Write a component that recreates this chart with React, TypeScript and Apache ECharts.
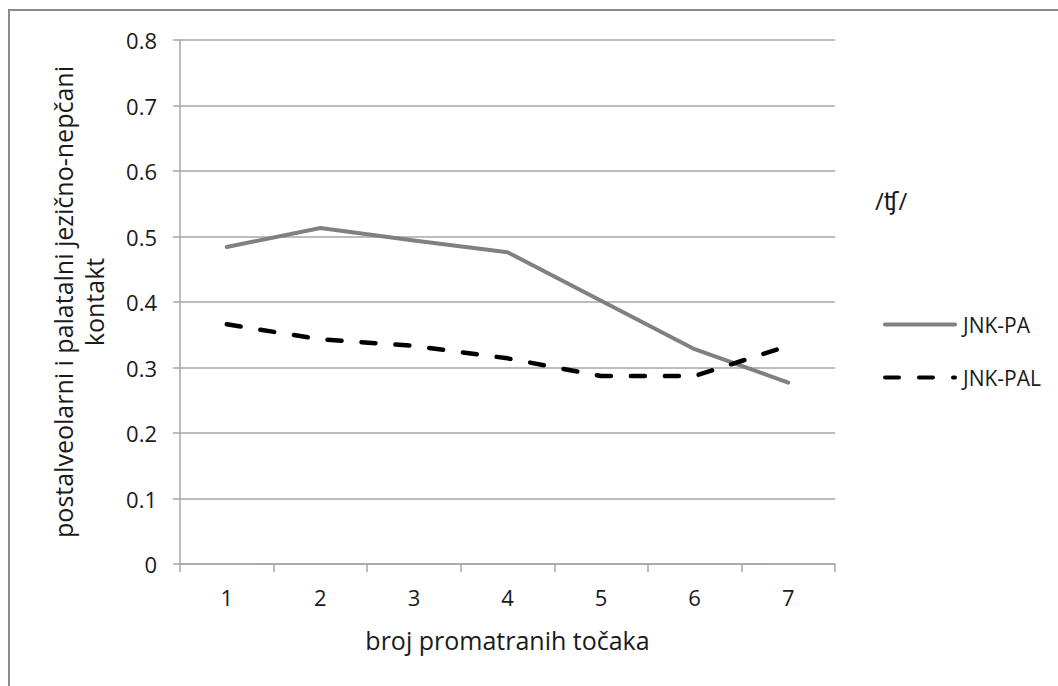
import { useEffect, useRef } from "react";
import * as echarts from "echarts";

// broj promatranih točaka (x kategorije)
const categories = ["1", "2", "3", "4", "5", "6", "7"];
const jnkPa = [0.484, 0.513, 0.494, 0.476, 0.402, 0.328, 0.277];
const jnkPal = [0.366, 0.343, 0.333, 0.314, 0.287, 0.287, 0.333];
const seriesNames = ["JNK-PA", "JNK-PAL"];
const yRange = { min: 0, max: 0.8, step: 0.1 };

const FONT = "'Open Sans', 'DejaVu Sans', sans-serif";
const TEXT = "#1a1a1a";
const GRID = "#a6a6a6";

export default function App() {
  const chartRef = useRef<HTMLDivElement>(null);

  useEffect(() => {
    if (!chartRef.current) return;
    const chart = echarts.init(chartRef.current, undefined, { renderer: "svg" });

    const option: echarts.EChartsOption = {
      animation: false,
      backgroundColor: "#ffffff",
      title: {
        text: "/ʧ/",
        left: 870,
        top: 183,
        textStyle: {
          fontFamily: FONT,
          fontSize: 24,
          fontWeight: "normal",
          color: TEXT,
        },
      },
      legend: {
        orient: "vertical",
        left: 878,
        top: 309,
        itemWidth: 70,
        itemHeight: 14,
        itemGap: 32,
        data: seriesNames,
        // samo linija u legendi, bez simbola
        itemStyle: { opacity: 0 },
        lineStyle: { width: 4 },
        textStyle: {
          fontFamily: FONT,
          fontSize: 21,
          color: TEXT,
          padding: [0, 0, 0, 3],
        },
      },
      grid: {
        left: 180,
        right: 223,
        top: 40,
        bottom: 122,
      },
      xAxis: {
        type: "category",
        data: categories,
        boundaryGap: true,
        name: "broj promatranih točaka",
        nameLocation: "middle",
        nameGap: 63,
        nameTextStyle: {
          fontFamily: FONT,
          fontSize: 25,
          color: TEXT,
        },
        axisLine: { lineStyle: { color: GRID, width: 1.5 } },
        axisTick: {
          show: true,
          length: 8,
          interval: 0,
          lineStyle: { color: GRID, width: 1.5 },
        },
        axisLabel: {
          fontFamily: FONT,
          fontSize: 22,
          color: TEXT,
          margin: 22,
          interval: 0,
        },
        splitLine: { show: false },
      },
      yAxis: {
        type: "value",
        min: yRange.min,
        max: yRange.max,
        interval: yRange.step,
        name: "postalveolarni i palatalni jezično-nepčani\nkontakt",
        nameLocation: "middle",
        nameGap: 71,
        nameTextStyle: {
          fontFamily: FONT,
          fontSize: 25,
          color: TEXT,
          lineHeight: 31,
          align: "center",
        },
        axisLine: { show: true, lineStyle: { color: GRID, width: 1.5 } },
        axisTick: {
          show: true,
          length: 7,
          lineStyle: { color: GRID, width: 1.5 },
        },
        axisLabel: {
          fontFamily: FONT,
          fontSize: 22,
          color: TEXT,
          margin: 23,
          formatter: (v: number) => (v === 0 ? "0" : v.toFixed(1)),
        },
        splitLine: { show: true, lineStyle: { color: GRID, width: 1.5 } },
      },
      series: [
        {
          name: seriesNames[0],
          type: "line",
          data: jnkPa,
          symbol: "none",
          lineStyle: { color: "#808080", width: 4, cap: "round", join: "round" },
          itemStyle: { color: "#808080" },
        },
        {
          name: seriesNames[1],
          type: "line",
          data: jnkPal,
          symbol: "none",
          lineStyle: {
            color: "#000000",
            width: 4.5,
            type: [14, 20],
            cap: "round",
            join: "round",
          },
          itemStyle: { color: "#000000" },
        },
      ],
      graphic: [
        {
          type: "line",
          shape: { x1: 8, y1: 10, x2: 1058, y2: 10 },
          style: { stroke: "#8c8c8c", lineWidth: 2 },
          silent: true,
        },
        {
          type: "line",
          shape: { x1: 9, y1: 10, x2: 9, y2: 686 },
          style: { stroke: "#8c8c8c", lineWidth: 2 },
          silent: true,
        },
      ],
    };

    chart.setOption(option);

    return () => {
      chart.dispose();
    };
  }, []);

  return (
    <div
      style={{
        position: "fixed",
        left: 0,
        top: 0,
        width: 1058,
        height: 686,
        background: "#fff",
      }}
    >
      <div ref={chartRef} style={{ width: 1058, height: 686 }} />
    </div>
  );
}
